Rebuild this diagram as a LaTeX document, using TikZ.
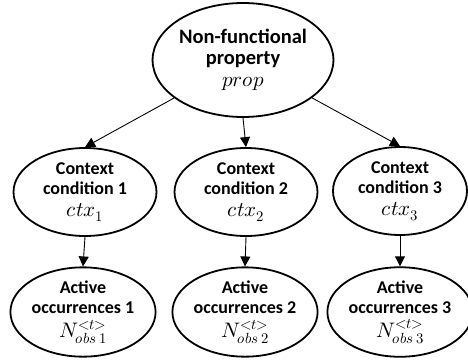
\documentclass[tikz,border=0pt]{standalone}
\usepackage{fontspec}
\usepackage{unicode-math}
\setmainfont{Carlito}
\setmathfont{Latin Modern Math}
\newcommand{\mline}[1]{\mdseries\fontsize{21}{21}\selectfont$#1$}
\usetikzlibrary{shapes.geometric,arrows.meta}
\begin{document}
\begin{tikzpicture}[x=1pt,y=1pt,
  oval/.style={ellipse,draw,line width=1.8pt,inner sep=0pt,align=center},
  big/.style={oval,minimum width=145pt,minimum height=114pt,font=\fontsize{20.5}{21}\selectfont\bfseries},
  mid/.style={oval,minimum width=143pt,minimum height=88pt,font=\fontsize{18}{20}\selectfont\bfseries},
  low/.style={oval,minimum width=140pt,minimum height=86pt,font=\fontsize{18}{20}\selectfont\bfseries},
  conn/.style={line width=0.9pt,-{Triangle[length=10pt,width=10pt]}}]
\useasboundingbox (0,0) rectangle (468,360);
\node[big] (p) at (243,300) {Non-functional\\property\\[1pt]\mline{prop}};
\node[mid] (c1) at (85,168) {Context\\condition 1\\[2pt]\mline{ctx_1}};
\node[mid] (c2) at (246,168) {Context\\condition 2\\[2pt]\mline{ctx_2}};
\node[mid,minimum width=134pt] (c3) at (400,169) {Context\\condition 3\\[2pt]\mline{ctx_3}};
\node[low] (a1) at (83,48) {Active\\occurrences 1\\[4pt]\mline{N^{{<}t{>}}_{obs\,1}}};
\node[low] (a2) at (245,48) {Active\\occurrences 2\\[4pt]\mline{N^{{<}t{>}}_{obs\,2}}};
\node[low,minimum width=134pt] (a3) at (400,48) {Active\\occurrences 3\\[4pt]\mline{N^{{<}t{>}}_{obs\,3}}};
\draw[conn] (p) -- (c1.north);
\draw[conn] (p.south) -- (c2.north);
\draw[conn] (p) -- (c3.north);
\draw[conn] (c1.south) -- (a1.north);
\draw[conn] (c2.south) -- (a2.north);
\draw[conn] (c3.south) -- (a3.north);
\end{tikzpicture}
\end{document}
